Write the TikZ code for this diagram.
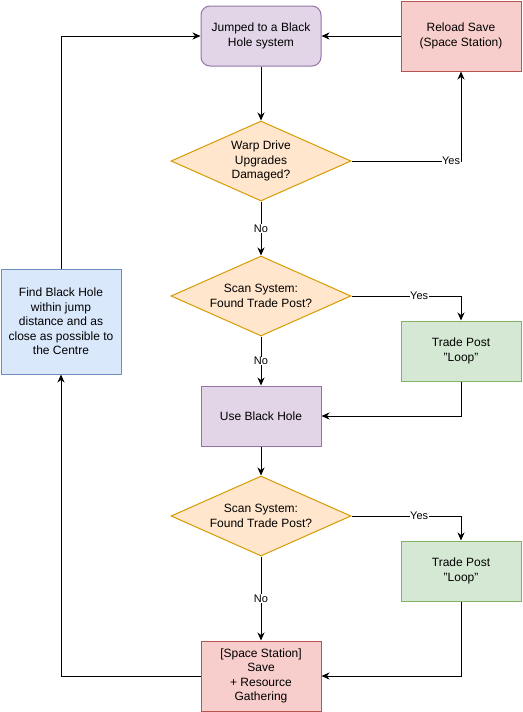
\documentclass[tikz,border=0pt]{standalone}
\usepackage{fontspec}
\setmainfont{Liberation Sans}
\usetikzlibrary{shapes.geometric,arrows.meta}
\definecolor{purF}{HTML}{E1D5E7}\definecolor{purD}{HTML}{9673A6}
\definecolor{redF}{HTML}{F8CECC}\definecolor{redD}{HTML}{B85450}
\definecolor{oraF}{HTML}{FFE6CC}\definecolor{oraD}{HTML}{D79B00}
\definecolor{greF}{HTML}{D5E8D4}\definecolor{greD}{HTML}{82B366}
\definecolor{bluF}{HTML}{DAE8FC}\definecolor{bluD}{HTML}{6C8EBF}
\begin{document}
\begin{tikzpicture}[x=1pt,y=-1pt,
  box/.style={draw, line width=1pt, inner sep=0pt, minimum width=120pt, minimum height=60pt, align=center, font=\fontsize{12}{14.5}\selectfont},
  purbox/.style={box, fill=purF, draw=purD},
  redbox/.style={box, fill=redF, draw=redD, minimum height=70pt},
  grebox/.style={box, fill=greF, draw=greD},
  blubox/.style={box, fill=bluF, draw=bluD, minimum height=105pt},
  dec/.style={diamond, draw=oraD, fill=oraF, line width=1pt, inner sep=0pt, aspect=2.25, minimum width=180pt, minimum height=80pt, align=center, font=\fontsize{12}{14.5}\selectfont},
  arr/.style={line width=1pt, -{Stealth[length=8pt,width=7pt,inset=2.5pt]}},
  lab/.style={fill=white, inner sep=0.5pt, font=\fontsize{11}{12}\selectfont}
]
\useasboundingbox (0,0) rectangle (522,712);
\node[purbox, rounded corners=9pt] (jump) at (261,36) {Jumped to a Black\\Hole system};
\node[redbox] (reload) at (461,36) {Reload Save\\(Space Station)};
\node[dec] (d1) at (261,161) {Warp Drive\\Upgrades\\Damaged?};
\node[dec] (d2) at (261,296) {Scan System:\\Found Trade Post?};
\node[grebox] (tp1) at (461,351) {Trade Post\\"Loop"};
\node[purbox] (use) at (261,416) {Use Black Hole};
\node[dec] (d3) at (261,516) {Scan System:\\Found Trade Post?};
\node[grebox] (tp2) at (461,571) {Trade Post\\"Loop"};
\node[redbox] (save) at (261,676) {[Space Station]\\Save\\+ Resource\\Gathering};
\node[blubox] (find) at (61,321.5) {Find Black Hole\\within jump\\distance and as\\close as possible to\\the Centre};

\draw[arr] (jump) -- (d1);
\draw[arr] (d1.east) -| node[lab, pos=0.4545]{Yes} (reload.south);
\draw[arr] (reload.west) -- (jump.east);
\draw[arr] (d1) -- node[lab]{No} (d2);
\draw[arr] (d2.east) -| node[lab, pos=0.309]{Yes} (tp1.north);
\draw[arr] (d2) -- node[lab]{No} (use);
\draw[arr] (tp1.south) |- (use.east);
\draw[arr] (use) -- (d3);
\draw[arr] (d3.east) -| node[lab, pos=0.309]{Yes} (tp2.north);
\draw[arr] (d3) -- node[lab]{No} (save);
\draw[arr] (tp2.south) |- (save.east);
\draw[arr] (save.west) -| (find.south);
\draw[arr] (find.north) |- (jump.west);
\end{tikzpicture}
\end{document}
